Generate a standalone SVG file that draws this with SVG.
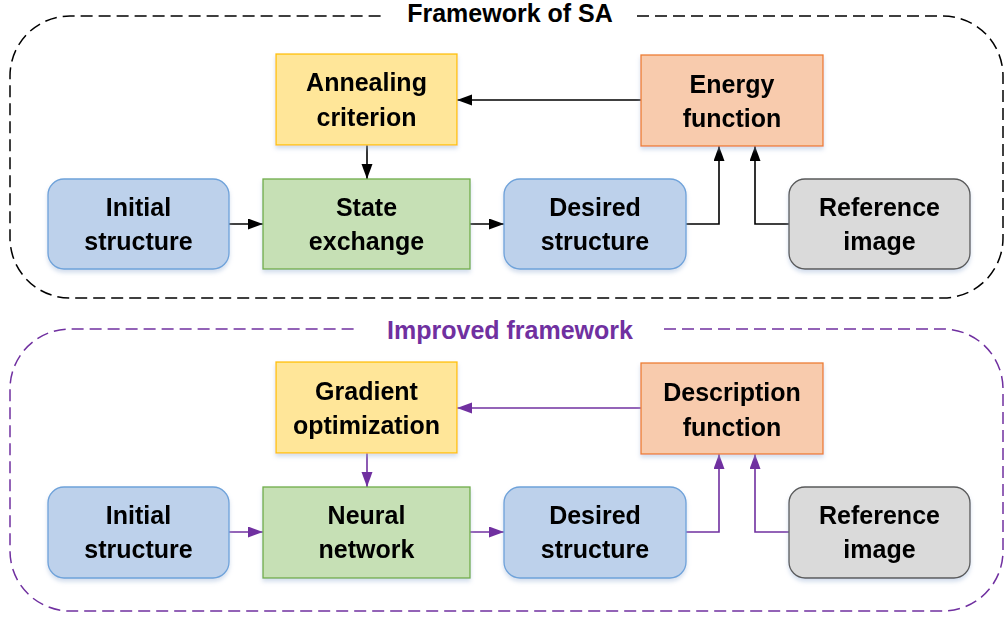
<svg xmlns="http://www.w3.org/2000/svg" width="1004" height="619" viewBox="0 0 1004 619">
<style>
text{font-family:"Liberation Sans",Arial,sans-serif;font-weight:bold;font-size:25px;fill:#000;text-anchor:middle}
.title{fill:#000}
.ptitle{fill:#7030A0}
.cont{fill:none;stroke-width:1.5;stroke-dasharray:12 6}
.blue{fill:#BDD1EB;stroke:#6EA2DA;stroke-width:1.3}
.green{fill:#C6E0B5;stroke:#70AD47;stroke-width:1.3}
.yellow{fill:#FFE699;stroke:#FFC000;stroke-width:1.3}
.orange{fill:#F8CBAD;stroke:#ED7D31;stroke-width:1.3}
.gray{fill:#DADADA;stroke:#595959;stroke-width:1.3}
.ck{fill:none;stroke:#000;stroke-width:1.6}
.cp{fill:none;stroke:#7030A0;stroke-width:1.6}
.node{filter:url(#sh)}
</style>
<defs>
<filter id="sh" x="-10%" y="-10%" width="120%" height="130%">
<feGaussianBlur in="SourceAlpha" stdDeviation="2"/>
<feOffset dx="0" dy="3" result="b"/>
<feFlood flood-color="#9DB4D6" flood-opacity="0.45"/>
<feComposite in2="b" operator="in"/>
<feMerge><feMergeNode/><feMergeNode in="SourceGraphic"/></feMerge>
</filter>
<marker id="ak" markerUnits="userSpaceOnUse" markerWidth="16" markerHeight="12" refX="15" refY="5.5" orient="auto">
<path d="M0,0 L15,5.5 L0,11 z" fill="#000"/>
</marker>
<marker id="ap" markerUnits="userSpaceOnUse" markerWidth="16" markerHeight="12" refX="15" refY="5.5" orient="auto">
<path d="M0,0 L15,5.5 L0,11 z" fill="#7030A0"/>
</marker>
</defs>

<g id="frame-sa">
<path class="cont" stroke="#000" d="M637 16 H943 A60 60 0 0 1 1003 76 V238 A60 60 0 0 1 943 298 H70 A60 60 0 0 1 10 238 V76 A60 60 0 0 1 70 16 H382"/>
<text class="title" x="510" y="22">Framework of SA</text>
</g>
<g id="frame-improved">
<path class="cont" stroke="#7030A0" d="M664 329 H943 A60 60 0 0 1 1003 389 V551 A60 60 0 0 1 943 611 H70 A60 60 0 0 1 10 551 V389 A60 60 0 0 1 70 329 H355"/>
<text class="ptitle" x="510" y="339">Improved framework</text>
</g>

<g id="connectors">
<line class="ck" x1="229" y1="224" x2="263" y2="224" marker-end="url(#ak)"/>
<line class="ck" x1="470" y1="224" x2="504" y2="224" marker-end="url(#ak)"/>
<line class="ck" x1="367" y1="145" x2="367" y2="179" marker-end="url(#ak)"/>
<line class="ck" x1="641" y1="100" x2="457" y2="100" marker-end="url(#ak)"/>
<polyline class="ck" points="686,224 719,224 719,146" marker-end="url(#ak)"/>
<polyline class="ck" points="789,224 755,224 755,146" marker-end="url(#ak)"/>

<line class="cp" x1="229" y1="532" x2="263" y2="532" marker-end="url(#ap)"/>
<line class="cp" x1="470" y1="532" x2="504" y2="532" marker-end="url(#ap)"/>
<line class="cp" x1="367" y1="453" x2="367" y2="487" marker-end="url(#ap)"/>
<line class="cp" x1="641" y1="408" x2="457" y2="408" marker-end="url(#ap)"/>
<polyline class="cp" points="686,532 719,532 719,454" marker-end="url(#ap)"/>
<polyline class="cp" points="789,532 755,532 755,454" marker-end="url(#ap)"/>
</g>

<g id="sa-initial" class="node"><rect class="blue" x="48" y="179" width="181" height="90" rx="16"/><text x="138.5" y="216">Initial</text><text x="138.5" y="250">structure</text></g>
<g id="sa-state" class="node"><rect class="green" x="263" y="179" width="207" height="90"/><text x="366.5" y="216">State</text><text x="366.5" y="250">exchange</text></g>
<g id="sa-annealing" class="node"><rect class="yellow" x="276" y="54" width="181" height="91"/><text x="366.5" y="91">Annealing</text><text x="366.5" y="126">criterion</text></g>
<g id="sa-energy" class="node"><rect class="orange" x="641" y="55" width="182" height="91"/><text x="732" y="93">Energy</text><text x="732" y="127">function</text></g>
<g id="sa-desired" class="node"><rect class="blue" x="504" y="179" width="182" height="90" rx="16"/><text x="595" y="216">Desired</text><text x="595" y="250">structure</text></g>
<g id="sa-reference" class="node"><rect class="gray" x="789" y="179" width="181" height="90" rx="16"/><text x="879.5" y="216">Reference</text><text x="879.5" y="250">image</text></g>

<g id="im-initial" class="node"><rect class="blue" x="48" y="487" width="181" height="91" rx="16"/><text x="138.5" y="524">Initial</text><text x="138.5" y="558">structure</text></g>
<g id="im-neural" class="node"><rect class="green" x="263" y="487" width="207" height="91"/><text x="366.5" y="524">Neural</text><text x="366.5" y="558">network</text></g>
<g id="im-gradient" class="node"><rect class="yellow" x="276" y="362" width="181" height="91"/><text x="366.5" y="400">Gradient</text><text x="366.5" y="434">optimization</text></g>
<g id="im-description" class="node"><rect class="orange" x="641" y="363" width="182" height="91"/><text x="732" y="401">Description</text><text x="732" y="436">function</text></g>
<g id="im-desired" class="node"><rect class="blue" x="504" y="487" width="182" height="91" rx="16"/><text x="595" y="524">Desired</text><text x="595" y="558">structure</text></g>
<g id="im-reference" class="node"><rect class="gray" x="789" y="487" width="181" height="91" rx="16"/><text x="879.5" y="524">Reference</text><text x="879.5" y="558">image</text></g>
</svg>
